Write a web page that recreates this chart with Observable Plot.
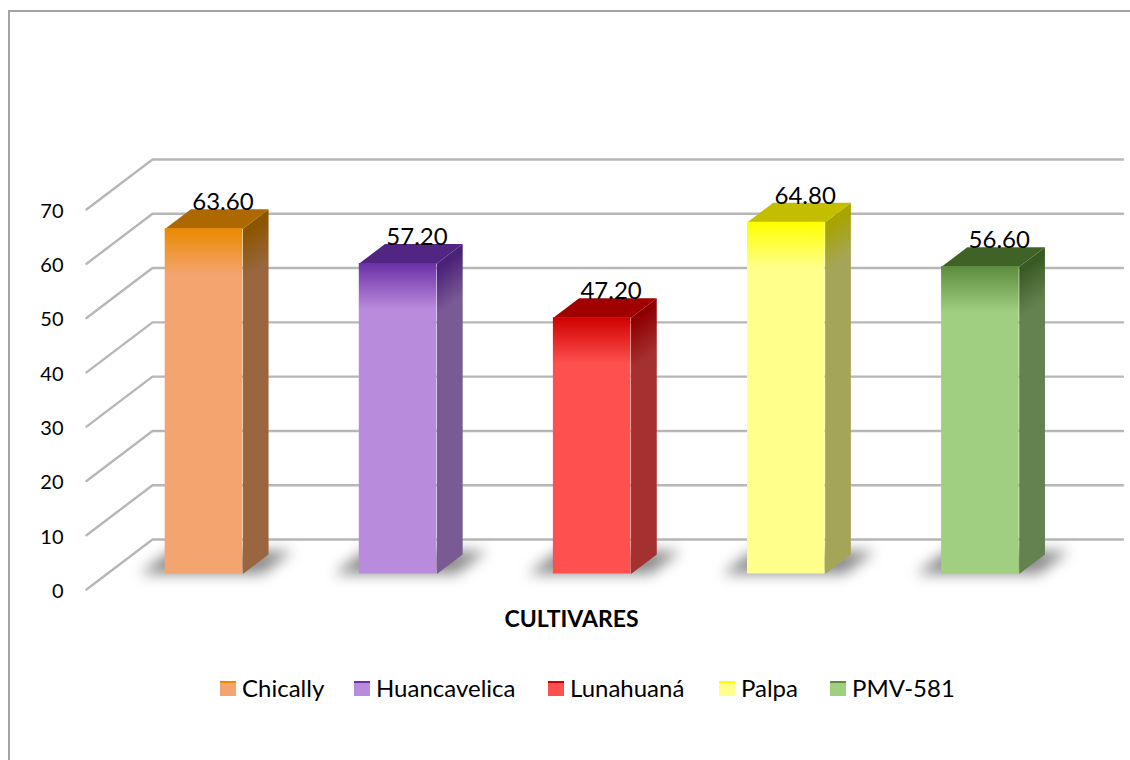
<!DOCTYPE html>
<html>
<head>
<meta charset="utf-8">
<script src="https://cdn.jsdelivr.net/npm/d3@7"></script>
<script src="https://cdn.jsdelivr.net/npm/@observablehq/plot@0.6"></script>
<style>
html,body{margin:0;padding:0;background:#fff;width:1130px;height:760px;overflow:hidden}
#frame{position:absolute;left:8px;top:10px;width:1122px;height:750px;border-left:2px solid #a3a3a3;border-top:2px solid #a3a3a3;box-sizing:border-box;pointer-events:none}
#chart{position:absolute;left:0;top:0}
#legend{position:absolute;left:0;top:673px;height:28px;width:1130px;font:24px Lato,sans-serif;color:#000}
.item{position:absolute;top:0;display:flex;align-items:center;height:28px;white-space:nowrap}
.sw{display:inline-block;width:16px;height:15px;margin-right:6px;position:relative;top:1px}
</style>
</head>
<body>
<div id="chart"></div>
<div id="frame"></div>
<div id="legend"></div>
<script>
const cultivars = ["Chically", "Huancavelica", "Lunahuaná", "Palpa", "PMV-581"];
const values = [63.6, 57.2, 47.2, 64.8, 56.6];
const frontLight = ["#F4A46E", "#B98BDD", "#FF5050", "#FFFF8B", "#A0CF7F"];
const frontDark = ["#E98A00", "#6B2FA6", "#D00000", "#FFFF00", "#5C8C3C"];
const topFace = ["#AD6800", "#512582", "#A00000", "#C4BE00", "#3F6327"];
const sideLight = ["#99663F", "#7A5A93", "#A53030", "#A5A55A", "#648250"];
const sideDark = ["#8C5500", "#4A2278", "#8E0000", "#A8A400", "#3A5A24"];
const yTicks = [0, 10, 20, 30, 40, 50, 60, 70];
const legendLeft = [220, 354, 548, 719, 830];

const fmt = d3.format(".2f");
const kx = 0.34, ky = 9.21;       // one unit of depth in x and value units
const nearDepth = 0.31, barDepth = 0.39, halfBar = 0.2, fadeValue = 8.5;
const base = nearDepth * ky;

const defs = () => {
  const d = d3.create("svg:defs");
  values.forEach((v, i) => {
    const f = d.append("linearGradient").attr("id", "front" + i)
      .attr("x1", 0).attr("y1", 0).attr("x2", 0).attr("y2", 1);
    f.append("stop").attr("offset", 0).attr("stop-color", frontDark[i]);
    f.append("stop").attr("offset", fadeValue / v).attr("stop-color", frontLight[i]);
    const H = v + barDepth * ky;
    const s = d.append("linearGradient").attr("id", "side" + i)
      .attr("x1", 1).attr("y1", 0).attr("x2", 1 + barDepth * ky / H).attr("y2", 1);
    s.append("stop").attr("offset", 0.02).attr("stop-color", sideDark[i]);
    s.append("stop").attr("offset", (fadeValue + 1) / H).attr("stop-color", sideLight[i]);
  });
  return d.node();
};

const gridMarks = yTicks.map(t => Plot.line(
  [[-0.5, t], [-0.5 + kx, t + ky], [4.5 + kx, t + ky]],
  {x: d => d[0], y: d => d[1], stroke: "#b7b7b7", strokeWidth: 2.4}
));

const shadowMarks = values.map((v, i) => {
  const c = i + nearDepth * kx, far = 0.46 * kx, rise = 0.46 * ky;
  return Plot.line(
    [[c - 0.33, base], [c + 0.3, base], [c + 0.3 + far, base + rise], [c - 0.33 + far, base + rise]],
    {x: d => d[0], y: d => d[1], fill: "#8a8a8a", stroke: "none", imageFilter: "blur(7px)"}
  );
});

const barMarks = values.flatMap((v, i) => {
  const c = i + nearDepth * kx, l = c - halfBar, r = c + halfBar;
  const dX = barDepth * kx, dY = barDepth * ky, t = v + base;
  return [
    Plot.line([[r, base], [r + dX, base + dY], [r + dX, t + dY], [r, t]],
      {x: d => d[0], y: d => d[1], fill: `url(#side${i})`, stroke: "none"}),
    Plot.line([[l, t], [r, t], [r + dX, t + dY], [l + dX, t + dY]],
      {x: d => d[0], y: d => d[1], fill: topFace[i], stroke: "none"}),
    Plot.rect([v], {x1: l, x2: r, y1: base, y2: t, fill: `url(#front${i})`})
  ];
});

const chart = Plot.plot({
  width: 1130,
  height: 650,
  marginLeft: 86,
  marginRight: 6,
  marginTop: 0,
  marginBottom: 19,
  style: {background: "transparent", fontFamily: "Lato, sans-serif", fontSize: "20px", color: "#000", overflow: "visible"},
  x: {domain: [-0.5, 4.5], range: [86, 1056.5], axis: null},
  y: {domain: [0, 70], range: [589, 209], axis: null},
  marks: [
    defs,
    ...gridMarks,
    ...shadowMarks,
    ...barMarks,
    Plot.axisY(yTicks, {anchor: "left", tickSize: 0, tickPadding: 23, dy: 2, label: null, fontSize: 20, tickFormat: d => String(d), fill: "#000"}),
    Plot.text(values, {
      x: (d, i) => i + (nearDepth + barDepth / 2) * kx,
      y: d => d + base + barDepth * ky,
      text: d => fmt(d),
      fontSize: 24,
      lineAnchor: "bottom",
      dx: 6,
      dy: 1,
      fill: "#000"
    }),
    Plot.text(["CULTIVARES"], {frameAnchor: "bottom", dx: -34, dy: -5, fontSize: 23, fontWeight: "bold", fill: "#000"})
  ]
});
document.getElementById("chart").append(chart);

const legend = d3.select("#legend");
cultivars.forEach((name, i) => {
  const it = legend.append("div").attr("class", "item").style("left", legendLeft[i] + "px");
  it.append("span").attr("class", "sw")
    .style("background", `linear-gradient(${frontDark[i]} 0 2px, ${frontLight[i]} 2px)`);
  it.append("span").text(name);
});
</script>
</body>
</html>
